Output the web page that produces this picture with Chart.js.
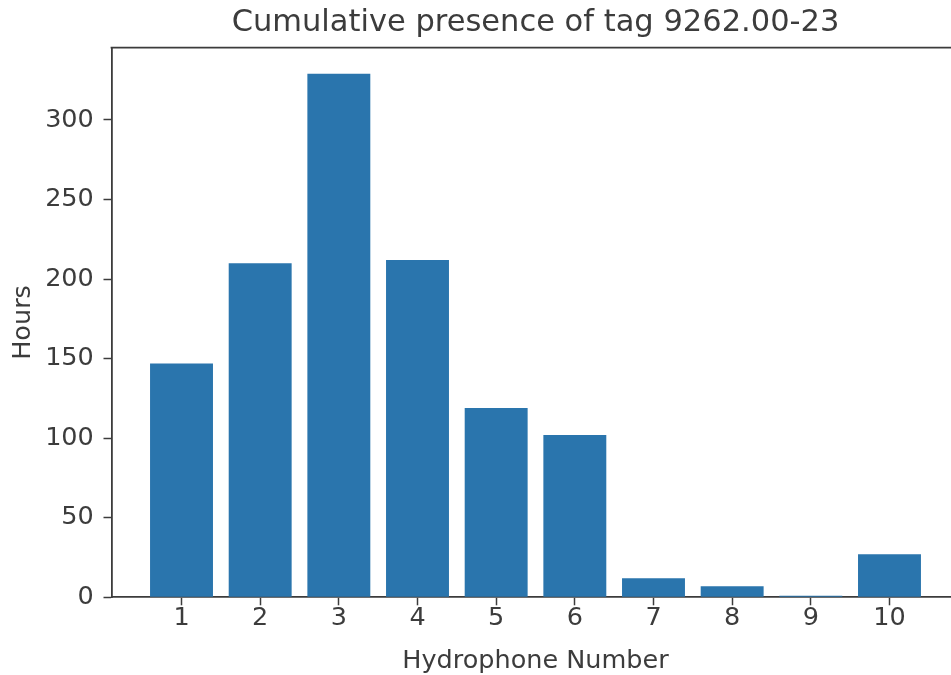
<!DOCTYPE html>
<html>
<head>
<meta charset="utf-8">
<script src="https://cdn.jsdelivr.net/npm/chart.js@4/dist/chart.umd.min.js"></script>
<style>
  html, body { margin: 0; padding: 0; background: #ffffff; overflow: hidden; }
  #wrap { position: relative; width: 962px; height: 675px; }
</style>
</head>
<body>
<div id="wrap"><canvas id="chart"></canvas></div>
<script>
// Hours each hydrophone registered the tag
const hydrophones = [1, 2, 3, 4, 5, 6, 7, 8, 9, 10];
const hours = [147, 210, 329, 212, 119, 102, 12, 7, 1, 27];

// Axis ticks
const xTicks = [1, 2, 3, 4, 5, 6, 7, 8, 9, 10];
const yTicks = [0, 50, 100, 150, 200, 250, 300];

const titleText = 'Cumulative presence of tag 9262.00-23';
const xLabel = 'Hydrophone Number';
const yLabel = 'Hours';

const BAR_COLOR = '#2a75ad';
const INK = '#3c3c3c';
const FONT = 'DejaVu Sans';
const BAR_WIDTH = 0.8;

// 5% margins around the data, like a classic bar plot
const xLo = Math.min(...hydrophones) - BAR_WIDTH / 2;
const xHi = Math.max(...hydrophones) + BAR_WIDTH / 2;
const xPad = (xHi - xLo) * 0.05;
const yMax = Math.max(...hours) * 1.05;

// Top and right frame lines
const frame = {
  id: 'frame',
  afterDraw(chart) {
    const { ctx, chartArea: a } = chart;
    ctx.save();
    ctx.strokeStyle = INK;
    ctx.lineWidth = 1.8;
    ctx.beginPath();
    ctx.moveTo(a.left - 0.9, a.top);
    ctx.lineTo(a.right + 0.9, a.top);
    ctx.moveTo(a.right, a.top);
    ctx.lineTo(a.right, a.bottom);
    ctx.stroke();
    ctx.restore();
  }
};

new Chart(document.getElementById('chart'), {
  type: 'bar',
  data: {
    datasets: [{
      data: hydrophones.map((h, i) => ({ x: h, y: hours[i] })),
      backgroundColor: BAR_COLOR,
      borderWidth: 0,
      barPercentage: BAR_WIDTH,
      categoryPercentage: 1.0
    }]
  },
  options: {
    responsive: true,
    maintainAspectRatio: false,
    animation: false,
    devicePixelRatio: 1,
    layout: { padding: { left: 0, right: 2.5, top: 0, bottom: 0 } },
    plugins: {
      legend: { display: false },
      tooltip: { enabled: false },
      title: {
        display: true,
        text: titleText,
        fullSize: false,
        color: INK,
        font: { family: FONT, size: 30.5, weight: 'normal' },
        padding: { top: 4.6, bottom: 6.4 }
      }
    },
    scales: {
      x: {
        type: 'linear',
        offset: false,
        min: xLo - xPad,
        max: xHi + xPad,
        afterBuildTicks: (axis) => { axis.ticks = xTicks.map(v => ({ value: v })); },
        afterFit: (axis) => { axis.height = 77.7; },
        grid: {
          offset: false,
          drawOnChartArea: false,
          drawTicks: true,
          tickLength: 8,
          tickWidth: 1.5,
          tickColor: INK
        },
        border: { display: true, color: INK, width: 1.8 },
        ticks: {
          color: INK,
          padding: -2,
          maxRotation: 0,
          autoSkip: false,
          font: { family: FONT, size: 25.5 },
          callback: (v) => String(v)
        },
        title: {
          display: true,
          text: xLabel,
          color: INK,
          font: { family: FONT, size: 25.5 },
          padding: { top: 0, bottom: -1.5 }
        }
      },
      y: {
        type: 'linear',
        min: 0,
        max: yMax,
        afterBuildTicks: (axis) => { axis.ticks = yTicks.map(v => ({ value: v })); },
        afterFit: (axis) => { axis.width = 111.5; },
        grid: {
          drawOnChartArea: false,
          drawTicks: true,
          tickLength: 8,
          tickWidth: 1.5,
          tickColor: INK
        },
        border: { display: true, color: INK, width: 1.8 },
        ticks: {
          color: INK,
          padding: 9.7,
          font: { family: FONT, size: 25.5 },
          callback: (v) => String(v)
        },
        title: {
          display: true,
          text: yLabel,
          color: INK,
          font: { family: FONT, size: 25.5 },
          padding: { top: 8.5, bottom: 0 }
        }
      }
    }
  },
  plugins: [frame]
});
</script>
</body>
</html>
